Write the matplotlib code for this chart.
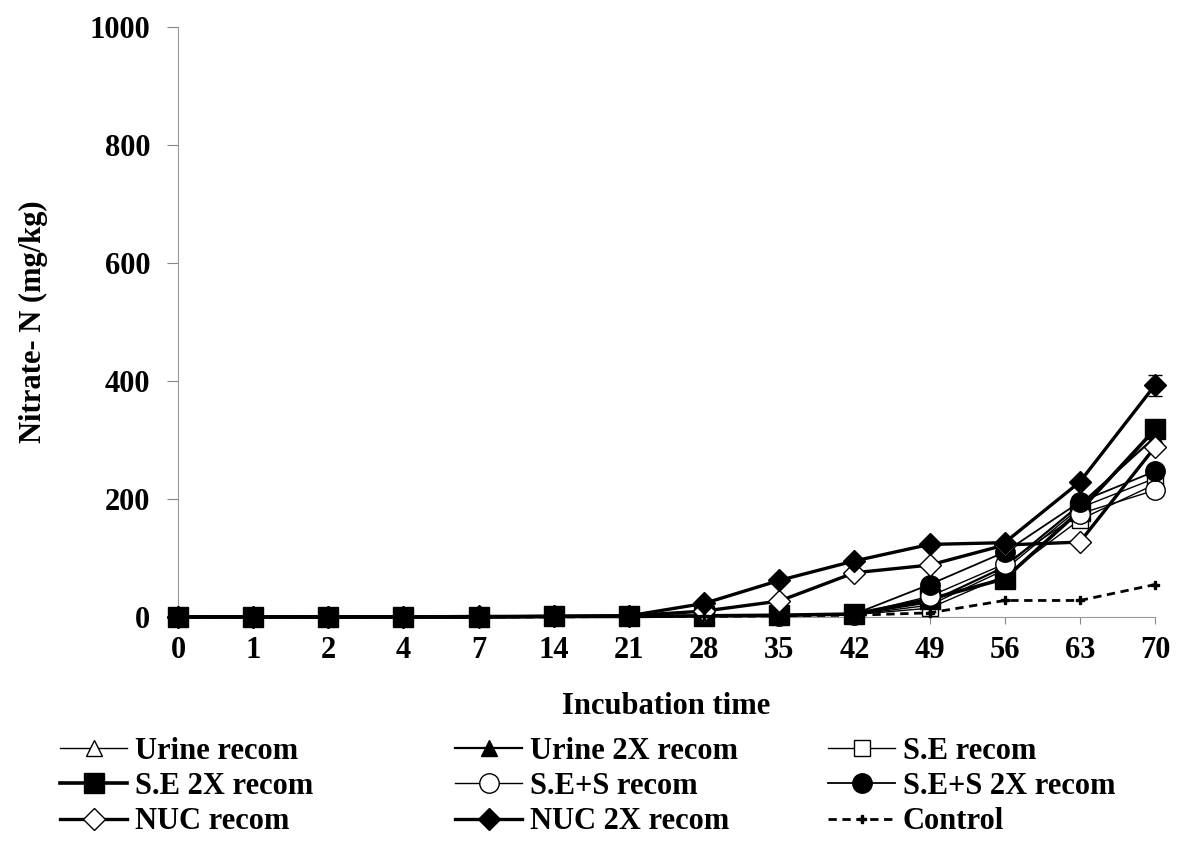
import matplotlib
matplotlib.use("Agg")
import matplotlib.pyplot as plt

plt.rcParams['font.family'] = ['Liberation Serif', 'DejaVu Serif']
plt.rcParams['font.weight'] = 'bold'

days = ['0', '1', '2', '4', '7', '14', '21', '28', '35', '42', '49', '56', '63', '70']

urine = [0, 0, 0, 0, 0, 1, 1, 2, 3, 4, 20, 80, 185, 235]
urine_2x = [0, 0, 0, 0, 0, 1, 1, 2, 3, 5, 25, 85, 190, 305]
se = [0, 0, 0, 0, 0, 1, 1, 2, 2, 4, 15, 70, 165, 225]
se_2x = [0, 0, 0, 0, 0, 1, 1, 2, 3, 5, 30, 65, 180, 318]
ses = [0, 0, 0, 0, 0, 1, 1, 2, 2, 4, 35, 90, 175, 215]
ses_2x = [0, 0, 0, 0, 0, 1, 1, 2, 3, 5, 55, 110, 195, 247]
nuc = [0, 0, 0, 0, 0, 1, 2, 10, 27, 75, 88, 122, 127, 288]
nuc_2x = [0, 0, 0, 0, 1, 1, 2, 23, 62, 95, 123, 126, 229, 393]
control = [0, 0, 0, 0, 0, 0, 1, 1, 2, 3, 7, 28, 28, 55]
nuc_2x_err = [0, 0, 0, 0, 0, 0, 0, 1, 2, 2, 3, 3, 4, 18]

labels = ['Urine recom', 'Urine 2X recom', 'S.E recom', 'S.E 2X recom', 'S.E+S recom',
          'S.E+S 2X recom', 'NUC recom', 'NUC 2X recom', 'Control']

# marker, fill, line width, marker size, linestyle
styles = {
    'Urine recom': ('^', 'white', 1.0, 12, '-'),
    'Urine 2X recom': ('^', 'black', 1.6, 12, '-'),
    'S.E recom': ('s', 'white', 1.0, 12, '-'),
    'S.E 2X recom': ('s', 'black', 2.6, 14, '-'),
    'S.E+S recom': ('o', 'white', 1.0, 14, '-'),
    'S.E+S 2X recom': ('o', 'black', 1.3, 14, '-'),
    'NUC recom': ('D', 'white', 2.4, 11, '-'),
    'NUC 2X recom': ('D', 'black', 2.4, 11, '-'),
    'Control': ('P', 'black', 2.0, 6, (0, (3, 2))),
}
series = [urine, urine_2x, se, se_2x, ses, ses_2x, nuc, nuc_2x, control]

fig = plt.figure(figsize=(11.8, 8.43), dpi=100)
ax = fig.add_axes([178 / 1180, 1 - 617 / 843, (1155 - 178) / 1180, (617 - 27) / 843])

x = list(range(len(days)))
handles = {}
for name, vals in zip(labels, series):
    m, fc, lw, ms, ls = styles[name]
    if name == 'NUC 2X recom':
        ax.errorbar(x, vals, yerr=nuc_2x_err, fmt='none', ecolor='black', elinewidth=1,
                    capsize=5, clip_on=False, zorder=3)
    line, = ax.plot(x, vals, color='black', lw=lw, ls=ls, marker=m, markersize=ms,
                    markerfacecolor=fc, markeredgecolor='black', markeredgewidth=1,
                    clip_on=False, zorder=4)
    handles[name] = line

ax.set_xlim(0, len(days) - 1)
ax.set_ylim(0, 1000)
ax.set_yticks(range(0, 1001, 200))
ax.set_xticks(x)
ax.set_xticklabels(days)
ax.tick_params(axis='both', labelsize=22, colors='#888888', labelcolor='black')
ax.tick_params(axis='y', length=8, pad=12)
ax.tick_params(axis='x', length=5, pad=9)
for lab in ax.get_xticklabels() + ax.get_yticklabels():
    lab.set_fontweight('bold')

for s in ['top', 'right']:
    ax.spines[s].set_visible(False)
ax.spines['left'].set_color('#999999')
ax.spines['bottom'].set_color('#999999')

ax.set_ylabel('Nitrate- N (mg/kg)', fontsize=22, fontweight='bold', labelpad=30)
fig.text(0.5 * (178 + 1155) / 1180, 1 - 706 / 843, 'Incubation time', fontsize=22,
         fontweight='bold', ha='center', va='center')

columns = [
    (60, ['Urine recom', 'S.E 2X recom', 'NUC recom']),
    (455, ['Urine 2X recom', 'S.E+S recom', 'NUC 2X recom']),
    (828, ['S.E recom', 'S.E+S 2X recom', 'Control']),
]
for xpos, names in columns:
    fig.legend([handles[n] for n in names], names, loc='upper left',
               bbox_to_anchor=(xpos / 1180, 1 - 737 / 843), frameon=False,
               prop={'size': 22, 'weight': 'bold'}, handlelength=2.2,
               handletextpad=0.25, labelspacing=0.2, borderpad=0, borderaxespad=0)

fig.savefig('out.png', dpi=100)
